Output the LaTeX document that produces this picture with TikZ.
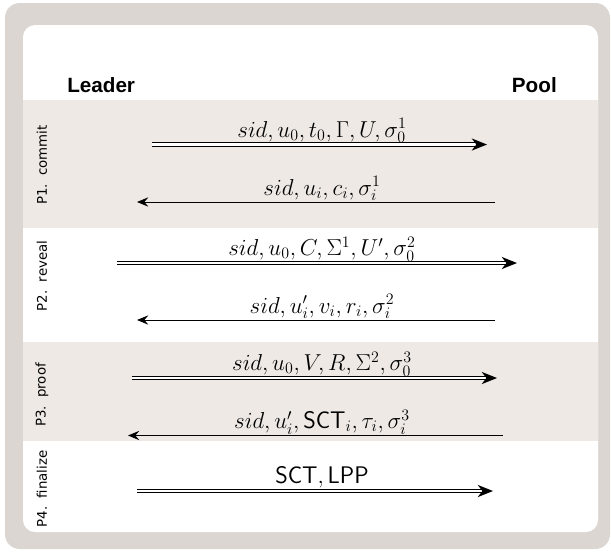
\documentclass[tikz,border=0pt]{standalone}
\usepackage{fontspec}
\newfontfamily\headfont{Liberation Sans}
\newfontfamily\phasefont{DejaVu Sans}
\usetikzlibrary{arrows.meta,decorations.markings}
\definecolor{outerc}{RGB}{219,214,209}
\definecolor{bandc}{RGB}{238,233,229}
\begin{document}
\begin{tikzpicture}[x=0.75pt,y=-0.75pt,
  msg/.style={font=\fontsize{18}{20}\selectfont, anchor=base, inner sep=0pt},
  head/.style={font=\headfont\bfseries\fontsize{15.5}{18}\selectfont, inner sep=0pt},
  phase/.style={font=\phasefont\fontsize{10}{12}\selectfont, rotate=90, inner sep=0pt},
  send/.style={double, double distance=1.6pt, line width=0.8pt, shorten >=8pt,
    decoration={markings, mark=at position 1 with {\fill[black] (0pt,0pt) -- (-11.5pt,4.6pt) -- (-8pt,0pt) -- (-11.5pt,-4.6pt) -- cycle;}},
    postaction={decorate}},
  reply/.style={line width=0.7pt, -{Stealth[length=8.5pt,width=7pt,inset=3pt]}}]
\useasboundingbox (0,0) rectangle (611,551);
% frames
\fill[outerc, rounded corners=11pt] (5,3) rectangle (610,549);
\fill[white, rounded corners=9pt] (23,25) rectangle (598,532);
\fill[bandc] (23,100) rectangle (598,228);
\fill[bandc] (23,342) rectangle (598,441);
% headers
\node[head, anchor=base west] (leader) at (67,92.7) {Leader};
\node[head, anchor=base east] (pool) at (557,92.7) {Pool};
% phase labels
\node[phase] (p1) at (42,165) {P1.\ \ commit};
\node[phase] (p2) at (42,276) {P2.\ \ reveal};
\node[phase] (p3) at (42,395) {P3.\ \ proof};
\node[phase] (p4) at (42,489) {P4.\ \ finalize};
% arrow end points
\coordinate (a1s) at (152,144.5); \coordinate (a1e) at (487,144.5);
\coordinate (a2s) at (495,202);   \coordinate (a2e) at (137,202);
\coordinate (a3s) at (117,263);   \coordinate (a3e) at (517,263);
\coordinate (a4s) at (495,320);   \coordinate (a4e) at (137,320);
\coordinate (a5s) at (132,378);   \coordinate (a5e) at (497,378);
\coordinate (a6s) at (503,435.5); \coordinate (a6e) at (128,435.5);
\coordinate (a7s) at (137,491);   \coordinate (a7e) at (493,491);
\draw[send]  (a1s) -- (a1e);
\draw[reply] (a2s) -- (a2e);
\draw[send]  (a3s) -- (a3e);
\draw[reply] (a4s) -- (a4e);
\draw[send]  (a5s) -- (a5e);
\draw[reply] (a6s) -- (a6e);
\draw[send]  (a7s) -- (a7e);
% message labels
\node[msg] (m1) at (322,137) {$sid, u_0, t_0, \Gamma, U, \sigma_0^1$};
\node[msg] (m2) at (322,195) {$sid, u_i, c_i, \sigma_i^1$};
\node[msg] (m3) at (322,255.5) {$sid, u_0, C, \Sigma^1, U', \sigma_0^2$};
\node[msg] (m4) at (322,313) {$sid, u_i', v_i, r_i, \sigma_i^2$};
\node[msg] (m5) at (322,370.5) {$sid, u_0, V, R, \Sigma^2, \sigma_0^3$};
\node[msg] (m6) at (322,428.5) {$sid, u_i', \mathsf{SCT}_i, \tau_i, \sigma_i^3$};
\node[msg] (m7) at (322,483.5) {$\mathsf{SCT}, \mathsf{LPP}$};
\end{tikzpicture}
\end{document}
